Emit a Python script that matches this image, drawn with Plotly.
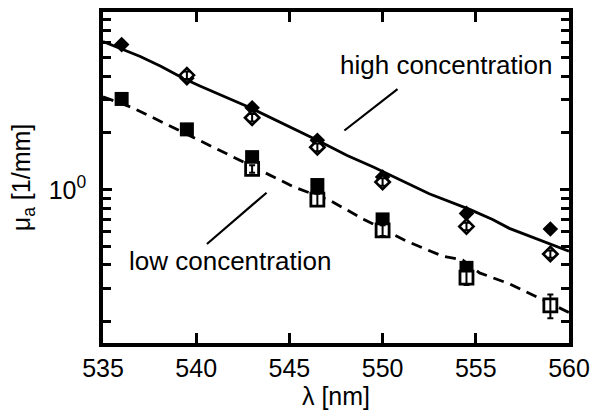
import plotly.graph_objects as go

# ---- data ----
wl_pts = [536, 539.5, 543, 546.5, 550, 554.5, 559]

high_filled = [5.88, 3.90, 2.72, 1.83, 1.17, 0.75, 0.62]
high_open = [5.88, 4.05, 2.41, 1.68, 1.10, 0.64, 0.457]
high_open_err = [0.0, 0.18, 0.11, 0.08, 0.05, 0.03, 0.02]

wl_low_filled = [536, 539.5, 543, 546.5, 550, 554.5]
low_filled = [3.03, 2.09, 1.49, 1.06, 0.697, 0.386]
wl_low_open = [543, 546.5, 550, 554.5, 559]
low_open = [1.29, 0.887, 0.61, 0.343, 0.244]
low_open_err = [0.06, 0.066, 0.04, 0.03, 0.035]

wl_high_fit = [535, 537, 538.1, 539.3, 540.2, 542.9, 546.5, 548.1, 549.5, 550.9,
               552.5, 554.7, 555.9, 556.8, 557.5, 558.3, 560]
high_fit = [6.10, 5.09, 4.51, 3.90, 3.55, 2.72, 1.83, 1.52, 1.32, 1.13,
            0.953, 0.785, 0.697, 0.625, 0.588, 0.547, 0.473]

wl_low_fit = [535, 536.6, 542.0, 545.2, 547.2, 549.0, 551.3, 553.2, 554.3, 555.2,
              556.8, 557.9, 560]
low_fit = [3.11, 2.72, 1.49, 1.04, 0.875, 0.697, 0.534, 0.446, 0.425, 0.363,
           0.318, 0.282, 0.224]

x_ticks = [535, 540, 545, 550, 555, 560]
y_major = [1]
y_major_text = ["10<sup>0</sup>"]
y_minor = [0.2, 0.3, 0.4, 0.5, 0.6, 0.7, 0.8, 0.9, 2, 3, 4, 5, 6, 7, 8]

FONT = "Liberation Sans, Arial, sans-serif"

fig = go.Figure()

# fitted curves
fig.add_trace(go.Scatter(x=wl_high_fit, y=high_fit, mode="lines",
                         line=dict(color="black", width=2.8), showlegend=False))
fig.add_trace(go.Scatter(x=wl_low_fit, y=low_fit, mode="lines",
                         line=dict(color="black", width=2.8, dash="11px,7px"),
                         showlegend=False))

# filled markers
fig.add_trace(go.Scatter(x=wl_pts, y=high_filled, mode="markers",
                         marker=dict(symbol="diamond", size=12, color="black"),
                         showlegend=False))
fig.add_trace(go.Scatter(x=wl_low_filled, y=low_filled, mode="markers",
                         marker=dict(symbol="square", size=14, color="black"),
                         showlegend=False))

# open markers (white filled, drawn on top)
fig.add_trace(go.Scatter(x=wl_pts[1:], y=high_open[1:], mode="markers",
                         marker=dict(symbol="diamond", size=11, color="white",
                                     line=dict(color="black", width=2.6)),
                         showlegend=False))
fig.add_trace(go.Scatter(x=wl_low_open, y=low_open, mode="markers",
                         marker=dict(symbol="square", size=13, color="white",
                                     line=dict(color="black", width=2.8)),
                         showlegend=False))

# error bars on top of the open markers
fig.add_trace(go.Scatter(x=wl_pts[1:], y=high_open[1:], mode="markers",
                         marker=dict(size=1, opacity=0),
                         error_y=dict(type="data", array=high_open_err[1:],
                                      color="black", thickness=2, width=3),
                         showlegend=False))
fig.add_trace(go.Scatter(x=wl_low_open, y=low_open, mode="markers",
                         marker=dict(size=1, opacity=0),
                         error_y=dict(type="data", array=low_open_err,
                                      color="black", thickness=2, width=3),
                         showlegend=False))

fig.update_layout(
    width=598, height=416,
    margin=dict(l=103, r=28, t=8, b=73),
    paper_bgcolor="white", plot_bgcolor="white",
    font=dict(family=FONT, size=25, color="black"),
    xaxis=dict(range=[535, 560], tickvals=x_ticks, ticks="inside", ticklen=10,
               tickwidth=2.5, tickcolor="black", showline=True, linewidth=3.5,
               linecolor="black", mirror="ticks", showgrid=False, zeroline=False,
               tickfont=dict(size=25), ticklabelstandoff=0,
               title=dict(text="λ [nm]", font=dict(size=25), standoff=4)),
    yaxis=dict(type="log", range=[-0.8115, 0.942], tickvals=y_major,
               ticktext=y_major_text, ticks="inside", ticklen=9, tickwidth=2.5,
               tickcolor="black", showline=True, linewidth=3.5, linecolor="black",
               mirror="ticks", showgrid=False, zeroline=False,
               tickfont=dict(size=25), ticklabelstandoff=8,
               minor=dict(tickvals=y_minor, ticks="inside", ticklen=8,
                          tickwidth=2.5, tickcolor="black", showgrid=False),
               title=dict(text="μ<sub>a</sub> [1/mm]", font=dict(size=25),
                          standoff=12)),
    annotations=[
        dict(text="high concentration", xref="paper", yref="paper",
             x=0.737, y=0.839, showarrow=False, font=dict(size=26),
             xanchor="center", yanchor="middle"),
        dict(text="low concentration", xref="paper", yref="paper",
             x=0.272, y=0.248, showarrow=False, font=dict(size=26),
             xanchor="center", yanchor="middle"),
    ],
    shapes=[
        dict(type="line", xref="paper", yref="paper", x0=0.632, y0=0.767,
             x1=0.518, y1=0.642, line=dict(color="black", width=2.2)),
        dict(type="line", xref="paper", yref="paper", x0=0.351, y0=0.454,
             x1=0.223, y1=0.299, line=dict(color="black", width=2.2)),
    ],
)

fig.write_html("out.html")
